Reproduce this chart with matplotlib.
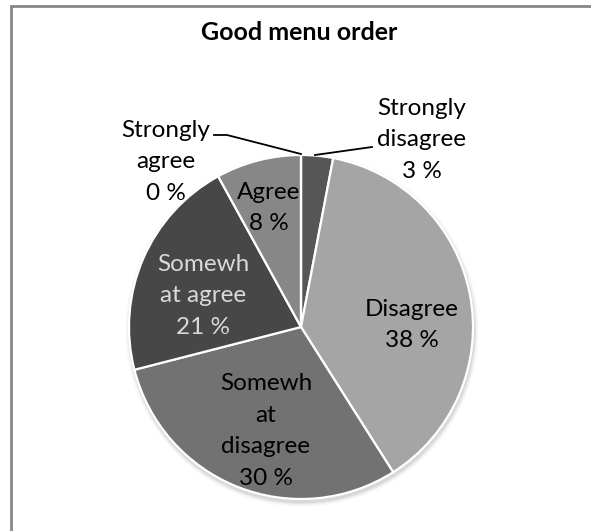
import matplotlib
matplotlib.use("Agg")
import matplotlib.pyplot as plt
from matplotlib.patches import Rectangle, Ellipse
import numpy as np

title = "Good menu order"
categories = ["Strongly\ndisagree", "Disagree", "Somewh\nat\ndisagree",
              "Somewh\nat agree", "Agree", "Strongly\nagree"]
values = [3, 38, 30, 21, 8, 0]

colors = ["#565656", "#a5a5a5", "#727272", "#474747", "#878787", "#6a6a6a"]
text_colors = ["#000000", "#000000", "#000000", "#d9d9d9", "#000000", "#000000"]
# label centres in pixel coordinates (x, y from top)
label_pos = [(422, 140), (412, 325), (266, 431), (203, 296), (269, 208), (166, 162)]
# leader lines for the labels placed outside the pie
leaders = {0: [(315, 155), (372, 147)], 5: [(301, 154), (227, 135), (214, 135)]}

W, H = 591, 531
fig = plt.figure(figsize=(W / 100, H / 100), dpi=100)
ax = fig.add_axes([0, 0, 1, 1])
ax.set_xlim(0, W)
ax.set_ylim(0, H)
ax.set_aspect("equal")
ax.axis("off")

plt.rcParams["font.family"] = ["Lato", "DejaVu Sans"]

# chart frame
ax.add_patch(Rectangle((10.5, -10), W, H - 5.5 + 10, fill=False,
                       edgecolor="#878787", linewidth=2))

cx, cy, r = 301, H - 327, 172

# soft shadow under the pie
for i, a in enumerate(np.linspace(0.05, 0.01, 5)):
    ax.add_patch(Ellipse((cx + 1, cy - 3), 2 * r + 2 + i * 2, 2 * r + 2 + i * 2,
                         facecolor="#000000", alpha=a, edgecolor="none", zorder=0))

wedges, _ = ax.pie(values, colors=colors, startangle=90, counterclock=False,
                   center=(cx, cy), radius=r, frame=True,
                   wedgeprops=dict(edgecolor="white", linewidth=1.6))
ax.set_xlim(0, W)
ax.set_ylim(0, H)
ax.axis("off")

for i, (cat, v) in enumerate(zip(categories, values)):
    x, y = label_pos[i]
    ax.text(x, H - y, f"{cat}\n{v} %", ha="center", va="center",
            fontsize=17.5, color=text_colors[i], linespacing=1.62, zorder=5)

for i, pts in leaders.items():
    xs = [p[0] for p in pts]
    ys = [H - p[1] for p in pts]
    ax.plot(xs, ys, color="black", linewidth=1.3, zorder=4)

ax.text(W / 2 + 4, H - 33, title, ha="center", va="center",
        fontsize=18, fontweight="bold", color="black")

fig.savefig("out.png", dpi=100)
